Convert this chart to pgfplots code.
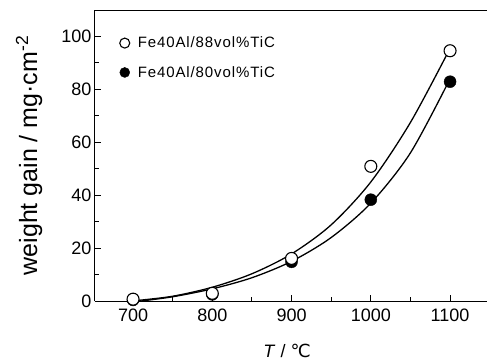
\documentclass[border=0pt]{standalone}
\usepackage{fontspec}
\setmainfont{Liberation Sans}
\newfontfamily\dejavu{DejaVu Sans}
\usepackage{pgfplots}
\pgfplotsset{compat=1.18}
\begin{document}
\begin{tikzpicture}
\useasboundingbox (-95pt,-59pt) rectangle (392pt,301pt);
\begin{axis}[
  at={(0pt,0pt)}, anchor=south west,
  scale only axis, width=392pt, height=291pt,
  xmin=652, xmax=1146.6, ymin=0, ymax=110,
  axis x line=box, axis y line=left,
  axis line style={-, line width=1pt},
  xtick={700,800,900,1000,1100},
  ytick={0,20,40,60,80,100},
  minor x tick num=1, minor y tick num=1,
  tick align=inside, xtick pos=bottom, ytick pos=left,
  major tick length=6pt, minor tick length=4pt,
  tick style={line width=0.9pt, black},
  /pgf/number format/assume math mode=true,
  /pgf/number format/1000 sep={},
  ticklabel style={font=\fontsize{18}{20}\selectfont},
  xticklabel style={yshift=-4pt},
  every axis y label/.style={at={(axis description cs:-0.168,0.5)}, rotate=90, anchor=center, font=\fontsize{25}{28}\selectfont},
  every axis x label/.style={at={(axis description cs:0.49,-0.17)}, anchor=center, font=\fontsize{18}{20}\selectfont},
  ylabel={weight gain / mg·cm\textsuperscript{-2}},
  xlabel={\textit{T} / {\dejavu ℃}},
  legend style={draw=none, fill=none, at={(axis description cs:0.055,0.922)}, anchor=north west, font=\fontsize{15}{17}\selectfont\addfontfeature{LetterSpace=6}, row sep=13pt, /tikz/every odd column/.append style={column sep=6pt}},
  legend cell align=left,
  legend image post style={mark size=5pt},
  reverse legend,
]
\addplot[black, line width=1.3pt, smooth, forget plot] coordinates {
(705,0.2) (750,1.8) (800,5.2) (850,10.3) (900,17.8) (950,28.8) (1000,45) (1050,67.5) (1100,95.5)};
\addplot[black, line width=1.3pt, smooth, forget plot] coordinates {
(710,0) (750,1.6) (800,4.6) (850,8.8) (900,15) (950,24) (1000,37) (1050,56) (1100,84)};
\addplot[only marks, mark=*, mark size=6pt, black] coordinates {
(700,0.4) (800,2.5) (900,14.8) (1000,38.3) (1100,82.9)};
\addlegendentry{Fe40Al/80vol\%TiC}
\addplot[only marks, mark=*, mark size=6pt, mark options={fill=white, draw=black, line width=1.1pt}] coordinates {
(700,0.7) (800,2.9) (900,16.1) (1000,50.9) (1100,94.6)};
\addlegendentry{Fe40Al/88vol\%TiC}
\end{axis}
\end{tikzpicture}
\end{document}
